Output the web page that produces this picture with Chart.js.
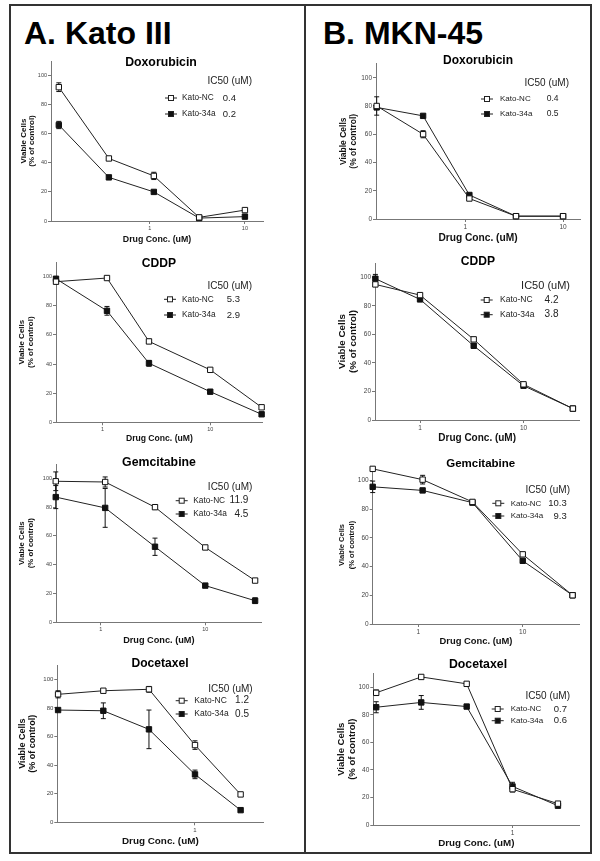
<!DOCTYPE html>
<html lang="en">
<head>
<meta charset="UTF-8">
<title>Kato III / MKN-45 drug response</title>
<script src="https://cdn.jsdelivr.net/npm/chart.js"></script>
<style>
    body {
        margin: 0;
        background: #fff;
        font-family: "Liberation Sans", Arial, sans-serif;
    }
    #page {
        position: relative;
        width: 600px;
        height: 861px;
        overflow: hidden;
    }
    #frame {
        position: absolute;
        left: 9px; top: 4px;
        width: 583px; height: 850px;
        border: 2px solid #333;
        box-sizing: border-box;
    }
    #divider {
        position: absolute;
        left: 304px; top: 4px;
        width: 2px; height: 850px;
        background: #333;
    }
    .head {
        position: absolute;
        top: 17px;
        font-size: 32px;
        font-weight: bold;
        line-height: 1;
        color: #000;
        white-space: nowrap;
    }
    canvas { position: absolute; }
</style>
</head>
<body>
<div id="page">
    <div id="frame"></div>
    <div id="divider"></div>
    <div class="head" style="left:24px">A. Kato III</div>
    <div class="head" style="left:323px">B. MKN-45</div>
</div>

<script>
    // ---- data ----
    const seriesLabels = ['Kato-NC', 'Kato-34a'];
    const yTicks = [0, 20, 40, 60, 80, 100];
    const xTicksWide = [1, 10];
    const xTicksDoc = [1];

    // A. Kato III
    const katoDoxDose = [0.11, 0.37, 1.1, 3.3, 10];
    const katoDoxNC = [92, 43, 31, 2.5, 7.5];
    const katoDoxNCErr = [3, 0, 2.5, 0, 0];
    const katoDox34a = [66, 30, 20, 2, 3];
    const katoDox34aErr = [2.5, 0, 0, 0, 0];
    const katoDoxIC50 = ['0.4', '0.2'];

    const katoCddpDose = [0.37, 1.1, 2.7, 10, 30];
    const katoCddpNC = [96.5, 99, 55.5, 36, 10.3];
    const katoCddpNCErr = [1.5, 0, 1.5, 0, 0];
    const katoCddp34a = [98.5, 76.5, 40.5, 21, 5.5];
    const katoCddp34aErr = [1, 3, 2, 0, 0];
    const katoCddpIC50 = ['5.3', '2.9'];

    const katoGemDose = [0.37, 1.1, 3.3, 10, 30];
    const katoGemNC = [98, 97.5, 80, 52, 29];
    const katoGemNCErr = [6.5, 3.5, 1.5, 0, 1];
    const katoGem34a = [87, 79.5, 52.5, 25.5, 15];
    const katoGem34aErr = [8, 13.5, 6, 0, 2];
    const katoGemIC50 = ['11.9', '4.5'];

    const katoDocDose = [0.037, 0.11, 0.33, 1, 3];
    const katoDocNC = [89.5, 92, 93, 54, 19.5];
    const katoDocNCErr = [2.5, 0, 2, 3, 0];
    const katoDoc34a = [78.5, 78, 65, 33.5, 8.5];
    const katoDoc34aErr = [0, 5.5, 13.5, 3, 0];
    const katoDocIC50 = ['1.2', '0.5'];

    // B. MKN-45
    const mknDoxDose = [0.124, 0.37, 1.1, 3.3, 10];
    const mknDoxNC = [80, 60, 14.5, 2, 2];
    const mknDoxNCErr = [6.5, 2.5, 1, 0, 0];
    const mknDox34a = [79, 73, 17, 2, 2];
    const mknDox34aErr = [0, 0, 0, 0, 0];
    const mknDoxIC50 = ['0.4', '0.5'];

    const mknCddpDose = [0.37, 1.0, 3.3, 10, 30];
    const mknCddpNC = [95, 87.5, 56.5, 25, 8];
    const mknCddpNCErr = [1.5, 1, 1.5, 0, 0];
    const mknCddp34a = [99, 84.5, 52, 24, 8];
    const mknCddp34aErr = [3, 1, 1.5, 0, 0];
    const mknCddpIC50 = ['4.2', '3.8'];

    const mknGemDose = [0.366, 1.1, 3.3, 10, 30];
    const mknGemNC = [108, 100.5, 85, 48.5, 20];
    const mknGemNCErr = [0, 3, 1, 1, 0];
    const mknGem34a = [95.5, 93, 84.5, 44, 20];
    const mknGem34aErr = [4, 0, 1, 0, 0];
    const mknGemIC50 = ['10.3', '9.3'];

    const mknDocDose = [0.037, 0.11, 0.33, 1, 3];
    const mknDocNC = [96, 107.5, 102.5, 26, 15.5];
    const mknDocNCErr = [2, 0, 0, 2, 0];
    const mknDoc34a = [85.5, 89, 86, 28, 14];
    const mknDoc34aErr = [4, 5, 0, 3, 0];
    const mknDocIC50 = ['0.7', '0.6'];

    // ---- layout of each panel (page coordinates) ----
    const panels = [
        { id: 'katoDox', title: 'Doxorubicin', dose: katoDoxDose, nc: katoDoxNC, ncErr: katoDoxNCErr, mir: katoDox34a, mirErr: katoDox34aErr, ic50: katoDoxIC50, xTicks: xTicksWide,
          box: [12, 46, 290, 202], ca: [51, 263, 61, 221], xMin: 0.091, xMax: 15.5,
          titlePos: [161, 63, 12.3], yTitle: [23.5, 8, 8.5], xTitle: [240, 8.8], tick: 5.5,
          leg: { head: [252, 81, 10], rows: [98, 114], mark: 171, text: 182, val: 236, lab: 8.3, num: 9.5 } },
        { id: 'mknDox', title: 'Doxorubicin', dose: mknDoxDose, nc: mknDoxNC, ncErr: mknDoxNCErr, mir: mknDox34a, mirErr: mknDox34aErr, ic50: mknDoxIC50, xTicks: xTicksWide,
          box: [308, 48, 281, 200], ca: [376, 580, 63.6, 219], xMin: 0.122, xMax: 14.9,
          titlePos: [478, 60.7, 12], yTitle: [343.5, 8.5, 10.5], xTitle: [238.3, 10.2], tick: 6.5,
          leg: { head: [569, 83, 10], rows: [99, 114], mark: 487, text: 500, val: 558.5, lab: 8, num: 8.5 } },
        { id: 'katoCddp', title: 'CDDP', dose: katoCddpDose, nc: katoCddpNC, ncErr: katoCddpNCErr, mir: katoCddp34a, mirErr: katoCddp34aErr, ic50: katoCddpIC50, xTicks: xTicksWide,
          box: [12, 247, 290, 201], ca: [56, 262.7, 262, 422.3], xMin: 0.37, xMax: 30.7,
          titlePos: [159, 264, 12.1], yTitle: [22, 8, 9], xTitle: [438.3, 8.6], tick: 5.5,
          leg: { head: [252, 286.7, 10], rows: [299.3, 315], mark: 170, text: 182, val: 240, lab: 8.3, num: 9.5 } },
        { id: 'mknCddp', title: 'CDDP', dose: mknCddpDose, nc: mknCddpNC, ncErr: mknCddpNCErr, mir: mknCddp34a, mirErr: mknCddp34aErr, ic50: mknCddpIC50, xTicks: xTicksWide,
          box: [308, 248, 281, 198], ca: [375, 579.3, 263, 420], xMin: 0.367, xMax: 34.6,
          titlePos: [478, 261.7, 12.1], yTitle: [342, 9.8, 11], xTitle: [438, 10], tick: 6.5,
          leg: { head: [570, 286, 11], rows: [300, 314.7], mark: 486.7, text: 500, val: 558.5, lab: 8.5, num: 10 } },
        { id: 'katoGem', title: 'Gemcitabine', dose: katoGemDose, nc: katoGemNC, ncErr: katoGemNCErr, mir: katoGem34a, mirErr: katoGem34aErr, ic50: katoGemIC50, xTicks: xTicksWide,
          box: [12, 449, 290, 199], ca: [56, 261.7, 464, 622.3], xMin: 0.372, xMax: 34.7,
          titlePos: [159, 462.7, 12.3], yTitle: [22, 7.8, 9], xTitle: [640, 9.2], tick: 5.5,
          leg: { head: [252.3, 487.7, 10], rows: [500.7, 514], mark: 181.7, text: 193.3, val: 248.3, lab: 8.3, num: 10 } },
        { id: 'mknGem', title: 'Gemcitabine', dose: mknGemDose, nc: mknGemNC, ncErr: mknGemNCErr, mir: mknGem34a, mirErr: mknGem34aErr, ic50: mknGemIC50, xTicks: xTicksWide,
          box: [308, 451, 281, 199], ca: [372.7, 579.3, 466, 624], xMin: 0.366, xMax: 34.8,
          titlePos: [480.7, 464.3, 11.5], yTitle: [341.5, 7.5, 10], xTitle: [641.7, 9.4], tick: 6.5,
          leg: { head: [570, 490, 10], rows: [503.3, 516], mark: 498.3, text: 510.7, val: 566.7, lab: 8, num: 9.5 } },
        { id: 'katoDoc', title: 'Docetaxel', dose: katoDocDose, nc: katoDocNC, ncErr: katoDocNCErr, mir: katoDoc34a, mirErr: katoDoc34aErr, ic50: katoDocIC50, xTicks: xTicksDoc,
          box: [12, 650, 290, 200], ca: [57.3, 263.3, 665, 822.3], xMin: 0.0363, xMax: 5.18,
          titlePos: [160, 663.3, 12.1], yTitle: [22.5, 9, 10.5], xTitle: [841.7, 9.9], tick: 6,
          leg: { head: [252.7, 689.3, 10], rows: [700.7, 714], mark: 181.7, text: 194.3, val: 249, lab: 8.5, num: 10 } },
        { id: 'mknDoc', title: 'Docetaxel', dose: mknDocDose, nc: mknDocNC, ncErr: mknDocNCErr, mir: mknDoc34a, mirErr: mknDoc34aErr, ic50: mknDocIC50, xTicks: xTicksDoc,
          box: [308, 658, 281, 193], ca: [373.3, 579.3, 673.5, 825], xMin: 0.0345, xMax: 5.03,
          titlePos: [478, 665, 12.3], yTitle: [341, 9.5, 11], xTitle: [843.3, 9.8], tick: 6.5,
          leg: { head: [570, 696.7, 10], rows: [709, 720.7], mark: 497.7, text: 510.7, val: 567, lab: 8, num: 9.5 } }
    ];

    const FONT = '"Liberation Sans", Arial, sans-serif';
    Chart.defaults.font.family = FONT;

    // error bars, drawn under the markers
    const errorBars = {
        id: 'errorBars',
        beforeDatasetsDraw(chart) {
            const { ctx, scales: { x, y } } = chart;
            ctx.save();
            ctx.strokeStyle = '#111';
            ctx.lineWidth = 1;
            chart.data.datasets.forEach(ds => {
                ds.data.forEach((p, i) => {
                    const e = ds.errors[i];
                    if (!e) return;
                    const px = x.getPixelForValue(p.x);
                    const y1 = y.getPixelForValue(p.y + e);
                    const y2 = y.getPixelForValue(p.y - e);
                    ctx.beginPath();
                    ctx.moveTo(px, y1); ctx.lineTo(px, y2);
                    ctx.moveTo(px - 2.5, y1); ctx.lineTo(px + 2.5, y1);
                    ctx.moveTo(px - 2.5, y2); ctx.lineTo(px + 2.5, y2);
                    ctx.stroke();
                });
            });
            ctx.restore();
        }
    };

    // panel title + IC50 legend
    const panelText = {
        id: 'panelText',
        afterDraw(chart, args, o) {
            const ctx = chart.ctx;
            const ox = o.box[0], oy = o.box[1];
            const lg = o.leg;
            ctx.save();
            ctx.textBaseline = 'middle';
            ctx.fillStyle = '#000';
            ctx.font = `bold ${o.titlePos[2]}px ${FONT}`;
            ctx.textAlign = 'center';
            ctx.fillText(o.title, o.titlePos[0] - ox, o.titlePos[1] - oy);

            ctx.fillStyle = '#222';
            ctx.font = `${lg.head[2]}px ${FONT}`;
            ctx.textAlign = 'right';
            ctx.fillText('IC50 (uM)', lg.head[0] - ox, lg.head[1] - oy);

            chart.data.datasets.forEach((ds, i) => {
                const y = lg.rows[i] - oy;
                const mx = lg.mark - ox;
                ctx.strokeStyle = '#222';
                ctx.lineWidth = 1;
                ctx.beginPath();
                ctx.moveTo(mx - 6, y); ctx.lineTo(mx + 6, y);
                ctx.stroke();
                ctx.fillStyle = ds.pointBackgroundColor;
                ctx.fillRect(mx - 2.5, y - 2.5, 5, 5);
                ctx.strokeRect(mx - 2.5, y - 2.5, 5, 5);
                ctx.fillStyle = '#222';
                ctx.textAlign = 'left';
                ctx.font = `${lg.lab}px ${FONT}`;
                ctx.fillText(ds.label, lg.text - ox, y);
                ctx.textAlign = 'right';
                ctx.font = `${lg.num}px ${FONT}`;
                ctx.fillText(o.ic50[i], lg.val - ox, y);
            });
            ctx.restore();
        }
    };

    const page = document.getElementById('page');

    panels.forEach(p => {
        const [bl, bt, bw, bh] = p.box;
        const [cl, cr, ct, cb] = p.ca;
        const yLH = p.yTitle[2];
        const yW = cl - p.yTitle[0] + yLH / 2;
        const xLH = p.xTitle[1] * 1.2;
        const xH = p.xTitle[0] + xLH / 2 - cb;

        const canvas = document.createElement('canvas');
        canvas.id = p.id;
        canvas.width = bw;
        canvas.height = bh;
        canvas.style.left = bl + 'px';
        canvas.style.top = bt + 'px';
        canvas.style.width = bw + 'px';
        canvas.style.height = bh + 'px';
        page.appendChild(canvas);

        const makeSet = (label, ys, errs, fill) => ({
            label: label,
            data: p.dose.map((d, i) => ({ x: d, y: ys[i] })),
            errors: errs,
            borderColor: '#222',
            borderWidth: 1,
            pointStyle: 'rect',
            pointRadius: 3.8,
            pointBorderWidth: 1,
            pointBorderColor: '#111',
            pointBackgroundColor: fill,
            tension: 0,
            clip: false
        });

        new Chart(canvas.getContext('2d'), {
            type: 'line',
            data: {
                datasets: [
                    makeSet(seriesLabels[0], p.nc, p.ncErr, '#fff'),
                    makeSet(seriesLabels[1], p.mir, p.mirErr, '#111')
                ]
            },
            options: {
                responsive: false,
                animation: false,
                devicePixelRatio: 1,
                layout: {
                    padding: {
                        left: cl - bl - yW,
                        right: bl + bw - cr,
                        top: ct - bt,
                        bottom: bt + bh - cb - xH
                    }
                },
                plugins: {
                    legend: { display: false },
                    tooltip: { enabled: false },
                    panelText: { box: p.box, title: p.title, titlePos: p.titlePos, leg: p.leg, ic50: p.ic50 }
                },
                scales: {
                    x: {
                        type: 'logarithmic',
                        min: p.xMin,
                        max: p.xMax,
                        afterBuildTicks: s => { s.ticks = p.xTicks.map(v => ({ value: v })); },
                        afterFit: s => { s.height = xH; },
                        grid: { display: true, drawOnChartArea: false, drawTicks: true, tickLength: 3, color: '#777' },
                        border: { display: true, color: '#777', width: 1 },
                        ticks: { font: { size: p.tick }, color: '#444', padding: 1, maxRotation: 0, autoSkip: false, callback: v => String(v) },
                        title: { display: true, text: 'Drug Conc. (uM)', color: '#111', padding: 0,
                                 font: { size: p.xTitle[1], weight: 'bold', lineHeight: 1.2 } }
                    },
                    y: {
                        min: 0,
                        max: 110,
                        afterBuildTicks: s => { s.ticks = yTicks.map(v => ({ value: v })); },
                        afterFit: s => { s.width = yW; },
                        grid: { display: true, drawOnChartArea: false, drawTicks: true, tickLength: 3, color: '#777' },
                        border: { display: true, color: '#777', width: 1 },
                        ticks: { font: { size: p.tick }, color: '#444', padding: 1, callback: v => String(v) },
                        title: { display: true, text: ['Viable Cells', '(% of control)'], color: '#111', padding: 0,
                                 font: { size: p.yTitle[1], weight: 'bold', lineHeight: yLH / p.yTitle[1] } }
                    }
                }
            },
            plugins: [errorBars, panelText]
        });
    });
</script>
</body>
</html>
